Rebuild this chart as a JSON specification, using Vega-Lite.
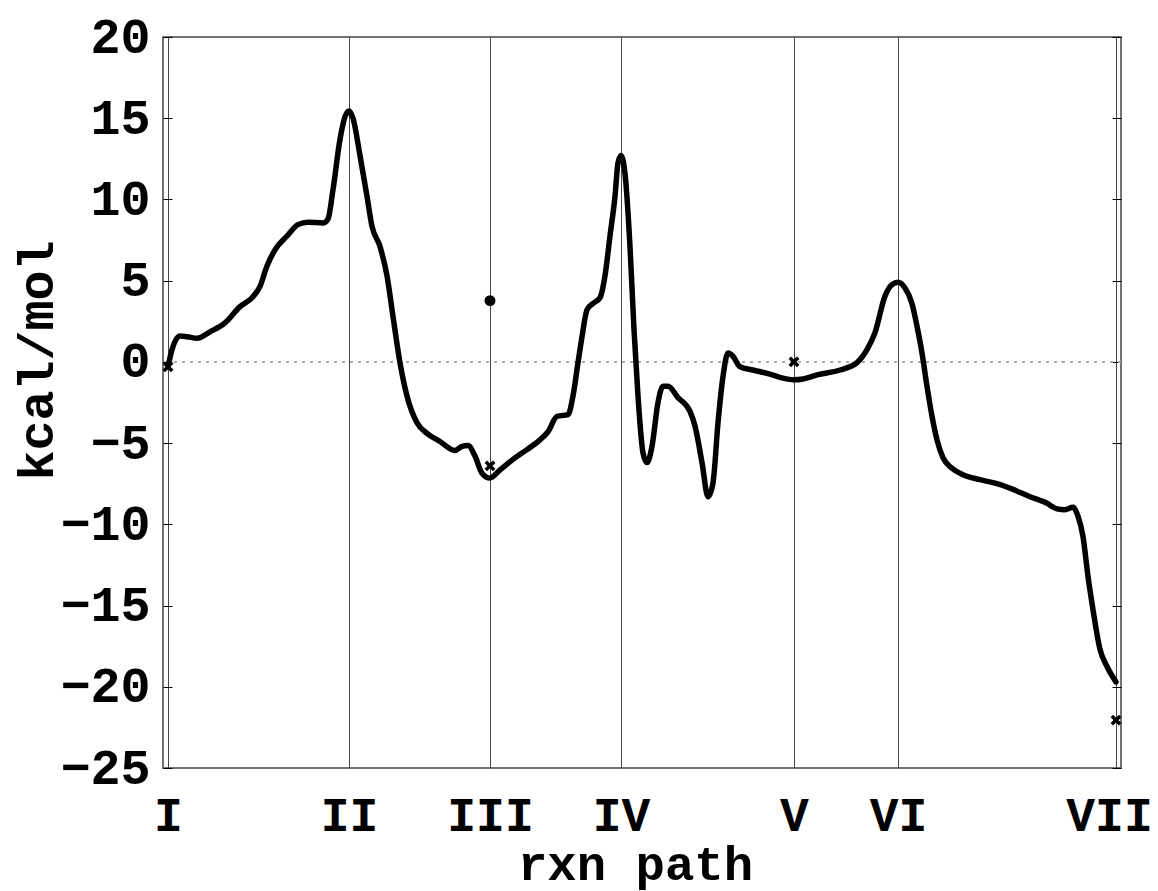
{
  "$schema": "https://vega.github.io/schema/vega-lite/v6.json",
  "width": 958,
  "height": 731,
  "autosize": {"type": "none"},
  "padding": {"left": 163, "top": 37, "right": 37, "bottom": 123},
  "background": "white",
  "config": {
    "view": {"stroke": "#444", "strokeWidth": 1.5},
    "font": "Liberation Mono"
  },
  "data": {
    "values": [
      {"s": 5, "v": -0.3, "kind": "path"},
      {"s": 9, "v": 0.75, "kind": "path"},
      {"s": 17, "v": 1.6, "kind": "path"},
      {"s": 24, "v": 1.55, "kind": "path"},
      {"s": 34, "v": 1.45, "kind": "path"},
      {"s": 47, "v": 1.85, "kind": "path"},
      {"s": 62, "v": 2.4, "kind": "path"},
      {"s": 77, "v": 3.4, "kind": "path"},
      {"s": 89, "v": 3.95, "kind": "path"},
      {"s": 97, "v": 4.65, "kind": "path"},
      {"s": 104, "v": 5.9, "kind": "path"},
      {"s": 112, "v": 6.9, "kind": "path"},
      {"s": 124, "v": 7.75, "kind": "path"},
      {"s": 135, "v": 8.45, "kind": "path"},
      {"s": 145, "v": 8.6, "kind": "path"},
      {"s": 160, "v": 8.55, "kind": "path"},
      {"s": 165, "v": 8.8, "kind": "path"},
      {"s": 170, "v": 10.6, "kind": "path"},
      {"s": 177, "v": 13.7, "kind": "path"},
      {"s": 182, "v": 15.1, "kind": "path"},
      {"s": 186, "v": 15.45, "kind": "path"},
      {"s": 190, "v": 15.0, "kind": "path"},
      {"s": 197, "v": 12.7, "kind": "path"},
      {"s": 204, "v": 10.2, "kind": "path"},
      {"s": 209, "v": 8.35, "kind": "path"},
      {"s": 217, "v": 7.1, "kind": "path"},
      {"s": 224, "v": 5.3, "kind": "path"},
      {"s": 230, "v": 2.8, "kind": "path"},
      {"s": 237, "v": -0.05, "kind": "path"},
      {"s": 244, "v": -2.1, "kind": "path"},
      {"s": 254, "v": -3.75, "kind": "path"},
      {"s": 264, "v": -4.4, "kind": "path"},
      {"s": 277, "v": -4.9, "kind": "path"},
      {"s": 292, "v": -5.45, "kind": "path"},
      {"s": 299, "v": -5.2, "kind": "path"},
      {"s": 305, "v": -5.15, "kind": "path"},
      {"s": 312, "v": -5.8, "kind": "path"},
      {"s": 319, "v": -6.85, "kind": "path"},
      {"s": 327, "v": -7.15, "kind": "path"},
      {"s": 337, "v": -6.65, "kind": "path"},
      {"s": 350, "v": -6.0, "kind": "path"},
      {"s": 364, "v": -5.4, "kind": "path"},
      {"s": 377, "v": -4.8, "kind": "path"},
      {"s": 385, "v": -4.3, "kind": "path"},
      {"s": 394, "v": -3.35, "kind": "path"},
      {"s": 405, "v": -3.25, "kind": "path"},
      {"s": 410, "v": -2.1, "kind": "path"},
      {"s": 415, "v": -0.05, "kind": "path"},
      {"s": 419, "v": 1.55, "kind": "path"},
      {"s": 424, "v": 3.2, "kind": "path"},
      {"s": 430, "v": 3.6, "kind": "path"},
      {"s": 437, "v": 3.95, "kind": "path"},
      {"s": 442, "v": 5.3, "kind": "path"},
      {"s": 447, "v": 7.75, "kind": "path"},
      {"s": 452, "v": 10.2, "kind": "path"},
      {"s": 455, "v": 12.25, "kind": "path"},
      {"s": 458, "v": 12.7, "kind": "path"},
      {"s": 462, "v": 11.6, "kind": "path"},
      {"s": 467, "v": 7.1, "kind": "path"},
      {"s": 471, "v": 2.0, "kind": "path"},
      {"s": 475, "v": -2.1, "kind": "path"},
      {"s": 480, "v": -5.6, "kind": "path"},
      {"s": 484, "v": -6.2, "kind": "path"},
      {"s": 489, "v": -5.2, "kind": "path"},
      {"s": 495, "v": -2.5, "kind": "path"},
      {"s": 500, "v": -1.5, "kind": "path"},
      {"s": 505, "v": -1.5, "kind": "path"},
      {"s": 515, "v": -2.2, "kind": "path"},
      {"s": 527, "v": -3.05, "kind": "path"},
      {"s": 532, "v": -3.95, "kind": "path"},
      {"s": 539, "v": -6.2, "kind": "path"},
      {"s": 545, "v": -8.3, "kind": "path"},
      {"s": 550, "v": -7.45, "kind": "path"},
      {"s": 555, "v": -3.75, "kind": "path"},
      {"s": 560, "v": -0.9, "kind": "path"},
      {"s": 565, "v": 0.55, "kind": "path"},
      {"s": 570, "v": 0.35, "kind": "path"},
      {"s": 577, "v": -0.3, "kind": "path"},
      {"s": 590, "v": -0.5, "kind": "path"},
      {"s": 607, "v": -0.75, "kind": "path"},
      {"s": 620, "v": -1.0, "kind": "path"},
      {"s": 631, "v": -1.1, "kind": "path"},
      {"s": 640, "v": -1.05, "kind": "path"},
      {"s": 654, "v": -0.8, "kind": "path"},
      {"s": 677, "v": -0.5, "kind": "path"},
      {"s": 694, "v": -0.05, "kind": "path"},
      {"s": 704, "v": 0.75, "kind": "path"},
      {"s": 712, "v": 1.8, "kind": "path"},
      {"s": 722, "v": 4.05, "kind": "path"},
      {"s": 729, "v": 4.75, "kind": "path"},
      {"s": 735, "v": 4.9, "kind": "path"},
      {"s": 742, "v": 4.55, "kind": "path"},
      {"s": 749, "v": 3.6, "kind": "path"},
      {"s": 754, "v": 2.2, "kind": "path"},
      {"s": 759, "v": 0.55, "kind": "path"},
      {"s": 764, "v": -1.5, "kind": "path"},
      {"s": 769, "v": -3.35, "kind": "path"},
      {"s": 774, "v": -4.8, "kind": "path"},
      {"s": 780, "v": -5.9, "kind": "path"},
      {"s": 789, "v": -6.55, "kind": "path"},
      {"s": 800, "v": -6.95, "kind": "path"},
      {"s": 817, "v": -7.25, "kind": "path"},
      {"s": 834, "v": -7.5, "kind": "path"},
      {"s": 850, "v": -7.85, "kind": "path"},
      {"s": 867, "v": -8.3, "kind": "path"},
      {"s": 884, "v": -8.7, "kind": "path"},
      {"s": 894, "v": -9.05, "kind": "path"},
      {"s": 902, "v": -9.1, "kind": "path"},
      {"s": 910, "v": -8.95, "kind": "path"},
      {"s": 915, "v": -9.5, "kind": "path"},
      {"s": 920, "v": -10.75, "kind": "path"},
      {"s": 925, "v": -13.2, "kind": "path"},
      {"s": 930, "v": -15.25, "kind": "path"},
      {"s": 937, "v": -17.7, "kind": "path"},
      {"s": 944, "v": -18.75, "kind": "path"},
      {"s": 953, "v": -19.7, "kind": "path"},
      {"s": 327, "v": 3.77, "kind": "dot"},
      {"s": 5, "v": -0.3, "kind": "cross"},
      {"s": 327, "v": -6.4, "kind": "cross"},
      {"s": 631, "v": 0.0, "kind": "cross"},
      {"s": 953, "v": -22.05, "kind": "cross"}
    ]
  },
  "resolve": {"axis": {"y": "independent"}},
  "layer": [
    {
      "mark": {"type": "rule", "color": "#aaaaaa", "strokeWidth": 1, "strokeDash": [3, 5]},
      "encoding": {
        "y": {
          "datum": 0,
          "type": "quantitative",
          "scale": {"domain": [-25, 20], "nice": false, "zero": false},
          "axis": {
            "orient": "right",
            "values": [-25, -20, -15, -10, -5, 0, 5, 10, 15, 20],
            "labels": false,
            "domain": false,
            "grid": false,
            "ticks": true,
            "tickSize": -9,
            "tickColor": "#000",
            "tickWidth": 1,
            "title": null
          }
        }
      }
    },
    {
      "transform": [{"filter": "datum.kind === 'path'"}],
      "mark": {"type": "line", "color": "#000", "strokeWidth": 5.5, "strokeJoin": "round", "strokeCap": "round", "interpolate": "monotone"},
      "encoding": {
        "x": {
          "field": "s",
          "type": "quantitative",
          "scale": {"domain": [0, 958], "nice": false, "zero": false},
          "axis": {
            "values": [5, 186, 327, 458, 631, 735, 953],
            "labelExpr": "{'5':'I','186':'II','327':'III','458':'IV','631':'V','735':'VI','953':'VII'}[datum.value + '']",
            "grid": true,
            "gridColor": "#444",
            "gridWidth": 1,
            "gridOpacity": 1,
            "domain": false,
            "ticks": false,
            "labelFont": "Liberation Mono",
            "labelFontWeight": "bold",
            "labelFontSize": 48,
            "labelColor": "#000",
            "labelPadding": 24,
            "labelBaseline": "top",
            "labelOffset": {"condition": {"test": "datum.value > 900", "value": -7}, "value": 0},
            "labelFlush": false,
            "labelOverlap": false,
            "title": "rxn path",
            "titleFont": "Liberation Mono",
            "titleFontWeight": "bold",
            "titleFontSize": 49,
            "titleColor": "#000",
            "titleX": 472,
            "titleY": 111,
            "titleAlign": "center",
            "titleBaseline": "alphabetic"
          }
        },
        "y": {
          "field": "v",
          "type": "quantitative",
          "scale": {"domain": [-25, 20], "nice": false, "zero": false},
          "axis": {
            "orient": "left",
            "values": [-25, -20, -15, -10, -5, 0, 5, 10, 15, 20],
            "grid": false,
            "domain": false,
            "ticks": true,
            "tickSize": -9,
            "tickColor": "#000",
            "tickWidth": 1,
            "labelFont": "Liberation Mono",
            "labelFontWeight": "bold",
            "labelFontSize": 50,
            "labelColor": "#000",
            "labelPadding": 22,
            "labelFlush": false,
            "labelOverlap": false,
            "title": "kcal/mol",
            "titleFont": "Liberation Mono",
            "titleFontWeight": "bold",
            "titleFontSize": 50,
            "titleColor": "#000",
            "titleAngle": -90,
            "titleX": -111,
            "titleY": 323,
            "titleAlign": "center",
            "titleBaseline": "alphabetic"
          }
        }
      }
    },
    {
      "transform": [{"filter": "datum.kind === 'dot'"}],
      "mark": {"type": "point", "shape": "circle", "filled": true, "color": "#000", "size": 120, "opacity": 1},
      "encoding": {
        "x": {"field": "s", "type": "quantitative"},
        "y": {"field": "v", "type": "quantitative", "axis": null}
      }
    },
    {
      "transform": [{"filter": "datum.kind === 'cross'"}],
      "mark": {"type": "point", "shape": "M-1,-1L1,1M1,-1L-1,1", "filled": false, "color": "#000", "strokeWidth": 3.5, "size": 70, "opacity": 1},
      "encoding": {
        "x": {"field": "s", "type": "quantitative"},
        "y": {"field": "v", "type": "quantitative", "axis": null}
      }
    }
  ]
}
